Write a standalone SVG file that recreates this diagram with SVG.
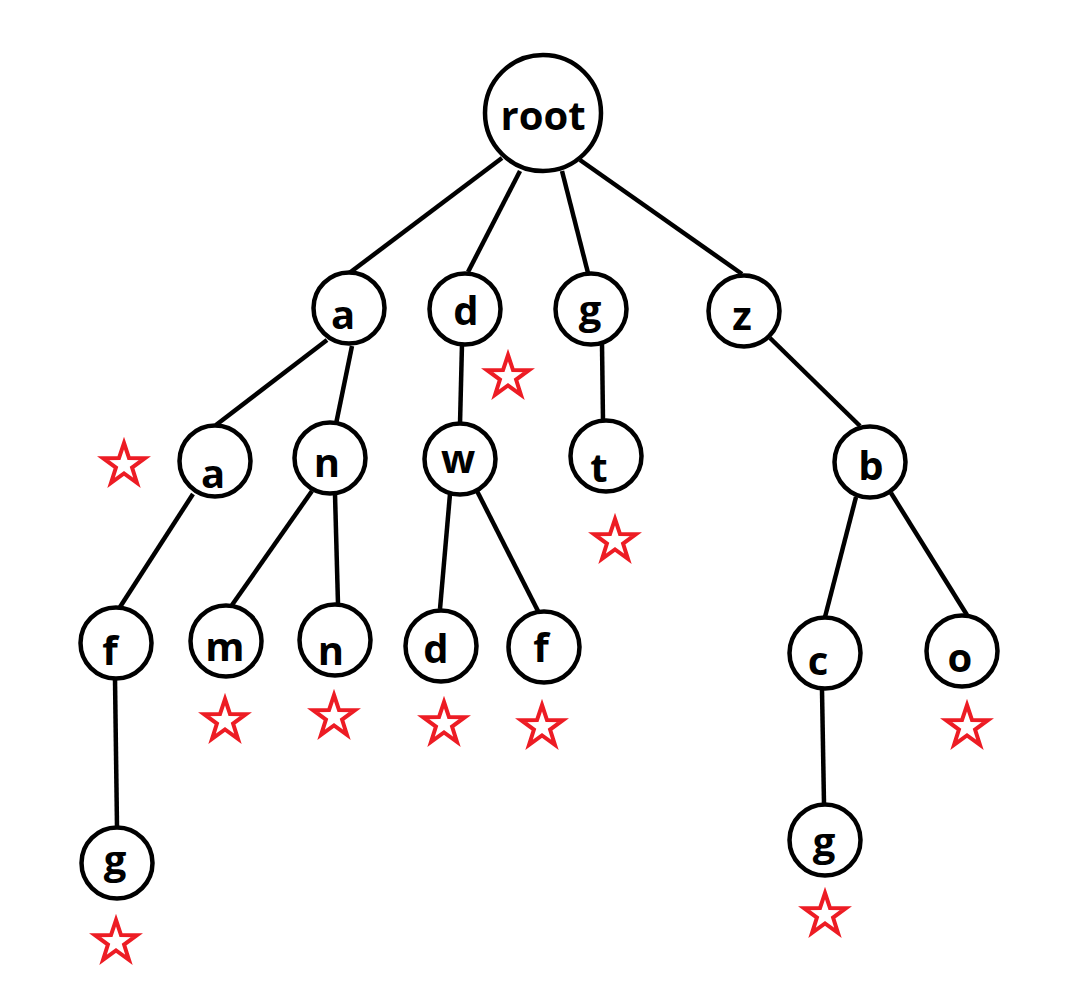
<svg xmlns="http://www.w3.org/2000/svg" xmlns:xlink="http://www.w3.org/1999/xlink" width="1080" height="990" viewBox="0 0 1080 990">
<style>
.e{stroke:#000;stroke-width:4.5;fill:none;stroke-linecap:butt}
.n{fill:#fff;stroke:#000;stroke-width:4.5}
.t{font-family:"Open Sans","Liberation Sans",sans-serif;font-weight:700;font-size:40px;fill:#000;text-anchor:middle}
.s{fill:none;stroke:#ED1C24;stroke-width:4;stroke-linejoin:miter}
</style>
<defs>
<path id="star" class="s" d="M0,-22 L5,-6.88 L20.92,-6.8 L8.08,2.63 L12.93,17.8 L0,8.5 L-12.93,17.8 L-8.08,2.63 L-20.92,-6.8 L-5,-6.88 Z"/>
</defs>
<rect width="1080" height="990" fill="#fff"/>
<g id="connectors">
<line class="e" x1="502" y1="158" x2="348" y2="274"/>
<line class="e" x1="520" y1="171" x2="468" y2="272"/>
<line class="e" x1="562" y1="171" x2="588" y2="273"/>
<line class="e" x1="580" y1="160" x2="742" y2="274"/>
<line class="e" x1="327" y1="340" x2="216" y2="425"/>
<line class="e" x1="352" y1="346" x2="336" y2="424"/>
<line class="e" x1="462" y1="344" x2="460" y2="424"/>
<line class="e" x1="602" y1="344" x2="603" y2="421"/>
<line class="e" x1="770" y1="338" x2="860" y2="426"/>
<line class="e" x1="193" y1="494" x2="120" y2="607"/>
<line class="e" x1="312" y1="491" x2="232" y2="605"/>
<line class="e" x1="335" y1="494" x2="338" y2="604"/>
<line class="e" x1="450" y1="494" x2="440" y2="609"/>
<line class="e" x1="477" y1="491" x2="538" y2="611"/>
<line class="e" x1="856" y1="497" x2="825" y2="617"/>
<line class="e" x1="891" y1="493" x2="967" y2="615"/>
<line class="e" x1="822" y1="690" x2="824" y2="804"/>
<line class="e" x1="115" y1="679" x2="117" y2="827"/>
</g>
<g id="root"><circle class="n" cx="543" cy="113" r="58"/><text class="t" x="543" y="130">root</text></g>
<g id="a1"><circle class="n" cx="349" cy="308" r="35.5"/><text class="t" x="343" y="329">a</text></g>
<g id="d1"><circle class="n" cx="465" cy="309" r="35.5"/><text class="t" x="466" y="325">d</text></g>
<g id="g1"><circle class="n" cx="591" cy="309" r="35.5"/><text class="t" x="590" y="324">g</text></g>
<g id="z"><circle class="n" cx="744" cy="311" r="35.5"/><text class="t" x="742" y="330">z</text></g>
<g id="a2"><circle class="n" cx="215" cy="461" r="35.5"/><text class="t" x="213" y="488">a</text></g>
<g id="n1"><circle class="n" cx="330" cy="458" r="35.5"/><text class="t" x="327" y="477">n</text></g>
<g id="w"><circle class="n" cx="460" cy="459" r="35.5"/><text class="t" x="458" y="473">w</text></g>
<g id="t"><circle class="n" cx="606" cy="456" r="35.5"/><text class="t" x="599" y="482">t</text></g>
<g id="b"><circle class="n" cx="870" cy="462" r="35.5"/><text class="t" x="871" y="480">b</text></g>
<g id="f1"><circle class="n" cx="116" cy="643" r="35.5"/><text class="t" x="110" y="665">f</text></g>
<g id="m"><circle class="n" cx="226" cy="641" r="35.5"/><text class="t" x="225" y="661">m</text></g>
<g id="n2"><circle class="n" cx="335" cy="640" r="35.5"/><text class="t" x="331" y="665">n</text></g>
<g id="d2"><circle class="n" cx="441" cy="646" r="35.5"/><text class="t" x="436" y="663">d</text></g>
<g id="f2"><circle class="n" cx="544" cy="647" r="35.5"/><text class="t" x="541" y="662">f</text></g>
<g id="c"><circle class="n" cx="825" cy="653" r="35.5"/><text class="t" x="818" y="675">c</text></g>
<g id="o"><circle class="n" cx="962" cy="651" r="35.5"/><text class="t" x="960" y="672">o</text></g>
<g id="g2"><circle class="n" cx="117" cy="863" r="35.5"/><text class="t" x="115" y="874">g</text></g>
<g id="g3"><circle class="n" cx="825" cy="840" r="35.5"/><text class="t" x="824" y="856">g</text></g>
<g id="stars">
<use xlink:href="#star" x="124" y="465"/>
<use xlink:href="#star" x="508" y="377"/>
<use xlink:href="#star" x="615" y="541"/>
<use xlink:href="#star" x="225" y="721"/>
<use xlink:href="#star" x="334" y="717"/>
<use xlink:href="#star" x="444" y="724"/>
<use xlink:href="#star" x="542" y="727"/>
<use xlink:href="#star" x="967" y="727"/>
<use xlink:href="#star" x="116" y="942"/>
<use xlink:href="#star" x="825" y="915"/>
</g>
</svg>
